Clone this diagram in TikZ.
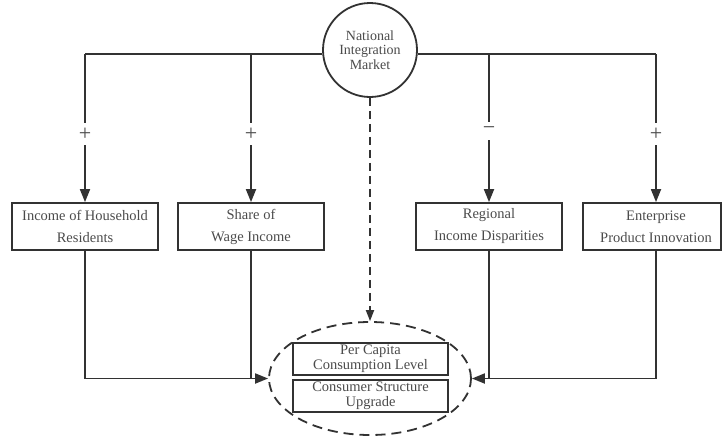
\documentclass[tikz,border=0pt]{standalone}
\usepackage{fontspec}
\setmainfont{Liberation Serif}
\usetikzlibrary{arrows.meta,shapes.geometric}
\definecolor{ln}{RGB}{50,50,50}
\definecolor{tx}{RGB}{75,75,75}
\begin{document}
\begin{tikzpicture}[x=1pt,y=-1pt,
  con/.style={draw=ln, line width=1.8pt},
  box/.style={draw=ln, line width=1.8pt, minimum width=146pt, minimum height=47pt,
    inner sep=0pt, align=center, text=tx, font=\fontsize{14.5}{22}\selectfont},
  ibox/.style={draw=ln, line width=1.8pt, minimum width=155pt, minimum height=32pt,
    inner sep=0pt, align=center, text=tx, font=\fontsize{14.5}{15}\selectfont},
  txt/.style={inner sep=0pt, align=center, text=tx, font=\fontsize{14.5}{22}\selectfont},
  sign/.style={fill=white, inner sep=5pt, text=tx, font=\fontsize{22}{22}\selectfont},
  arr/.style={con, -{Triangle[length=13pt,width=10pt]}},
  darr/.style={con, -{Triangle[length=11pt,width=8pt]}, dash pattern=on 8pt off 5pt}
]
\useasboundingbox (0,0) rectangle (722,437);
\fill[white] (0,0) rectangle (722,437);

\node[circle, draw=ln, line width=1.8pt, minimum size=94pt, inner sep=0pt, align=center,
  text=tx, font=\fontsize{14}{14.5}\selectfont] (nim) at (370,50) {National\\Integration\\Market};

\node[box] (b1) at (85,226.5) {Income of Household\\Residents};
\node[box] (b2) at (251,226.5) {Share of\\Wage Income};
\node[box] (b3) at (489,226.5) {Regional\\Income Disparities};
\node[box, minimum width=138pt] (b4) at (652,226.5) {};
\node[txt] (b4t) at (656,226.5) {Enterprise\\Product Innovation};

\node[ellipse, draw=ln, line width=1.8pt, dash pattern=on 10pt off 6pt,
  minimum width=202pt, minimum height=113pt] (ell) at (370,378.5) {};
\node[ibox] (pc) at (370.5,359) {Per Capita\\Consumption Level};
\node[ibox] (cs) at (370.5,396) {Consumer Structure\\Upgrade};

\coordinate (h) at (0,54);
\draw[con] (b1.north |- h) -- (nim.west |- h);
\draw[con] (nim.east |- h) -- (b4t.north |- h);

\draw[arr] (b1.north |- h) -- node[sign, pos=0.54] {+} (b1.north);
\draw[arr] (b2.north |- h) -- node[sign, pos=0.54] {+} (b2.north);
\draw[arr] (b3.north |- h) -- node[sign, pos=0.52] {−} (b3.north);
\draw[arr] (b4t.north |- h) -- node[sign, pos=0.54] {+} (b4t |- b4.north);

\draw[darr] (nim.south) -- (ell.north);

\draw[arr] (b1.south) -- (b1.south |- ell.west) -- (ell.west);
\draw[con] (b2.south) -- (b2.south |- ell.west);
\draw[arr] (b4t |- b4.south) -- (b4t |- ell.east) -- (ell.east);
\draw[con] (b3.south) -- (b3.south |- ell.east);
\end{tikzpicture}
\end{document}
